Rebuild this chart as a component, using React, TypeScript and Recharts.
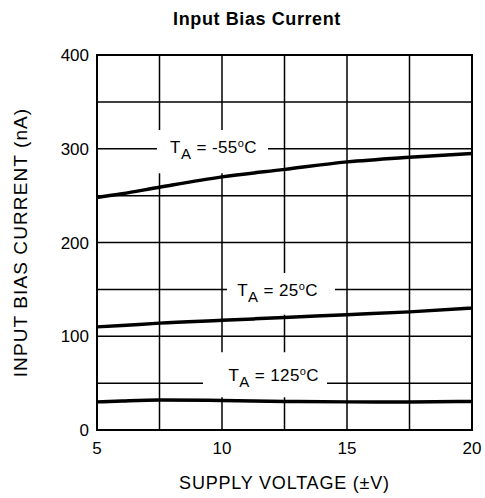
import { LineChart, Line, XAxis, YAxis, CartesianGrid, ReferenceArea, ReferenceDot, Label } from "recharts";

const voltage = [5, 6, 7.5, 10, 12.5, 15, 17.5, 20];
const biasM55 = [248, 252, 259, 270, 278, 286, 291, 295];
const bias25 = [110, 111.5, 114, 117, 120, 123, 126, 130];
const bias125 = [30, 31, 32, 31.5, 30.5, 30, 30, 30.5];

const xTicks = [5, 7.5, 10, 12.5, 15, 17.5, 20];
const yTicks = [0, 50, 100, 150, 200, 250, 300, 350, 400];

// curve labels: temperature text plus the white box that cuts the grid behind it
const curveLabels = [
  { temp: "-55", x: 9.66, y: 295, box: [7.4, 11.84, 274, 320] },
  { temp: "25", x: 12.22, y: 142.6, box: [10.2, 14.52, 123, 167.5] },
  { temp: "125", x: 12.07, y: 52.3, box: [9.24, 14.2, 35, 83] },
];

const data = voltage.map((v, i) => ({
  v,
  m55: biasM55[i],
  t25: bias25[i],
  t125: bias125[i],
}));

const FONT = "'Liberation Sans', Arial, Helvetica, sans-serif";

const TempText = ({ cx, cy, temp }: any) => (
  <text x={cx} y={cy} textAnchor="middle" fontFamily={FONT} fontSize={17} letterSpacing={0.4} fill="#000">
    T
    <tspan fontSize={15} dy={6}>A</tspan>
    <tspan dy={-6}>{` = ${temp}`}</tspan>
    <tspan fontSize={11} dy={-6}>o</tspan>
    <tspan dy={6}>C</tspan>
  </text>
);

const tickFmt = (step: number) => (v: number) => (v % step === 0 ? String(v) : "");

export default function App() {
  return (
    <div style={{ position: "absolute", left: 0, top: 0, width: 485, height: 498, background: "#fff" }}>
      <div
        style={{
          position: "absolute",
          left: 0,
          top: 9,
          width: 514,
          textAlign: "center",
          fontFamily: FONT,
          fontWeight: "bold",
          fontSize: 18,
          letterSpacing: 0.6,
          color: "#000",
        }}
      >
        Input Bias Current
      </div>
      <LineChart width={485} height={498} data={data} margin={{ top: 55, right: 13, left: 40, bottom: 4 }}>
        <CartesianGrid stroke="#000" strokeWidth={1.5} />
        <XAxis
          dataKey="v"
          type="number"
          domain={[5, 20]}
          ticks={xTicks}
          tickFormatter={tickFmt(5)}
          tickLine={false}
          axisLine={{ stroke: "#000", strokeWidth: 2 }}
          tickMargin={6}
          height={64}
          tick={{ fontFamily: FONT, fontSize: 17, fill: "#000" }}
        >
          <Label
            value="SUPPLY VOLTAGE (±V)"
            position="insideBottom"
            offset={5}
            style={{ fontFamily: FONT, fontSize: 18, letterSpacing: 0.8, fill: "#000" }}
          />
        </XAxis>
        <YAxis
          type="number"
          domain={[0, 400]}
          ticks={yTicks}
          tickFormatter={tickFmt(100)}
          tickLine={false}
          axisLine={{ stroke: "#000", strokeWidth: 2 }}
          width={57}
          tick={{ fontFamily: FONT, fontSize: 17, fill: "#000" }}
        >
          <Label
            value="INPUT BIAS CURRENT (nA)"
            angle={-90}
            position="insideLeft"
            offset={-20}
            style={{ textAnchor: "middle", fontFamily: FONT, fontSize: 19, letterSpacing: 1.1, fill: "#000" }}
          />
        </YAxis>
        {curveLabels.map((c) => (
          <ReferenceArea
            key={"box" + c.temp}
            x1={c.box[0]}
            x2={c.box[1]}
            y1={c.box[2]}
            y2={c.box[3]}
            fill="#fff"
            fillOpacity={1}
            stroke="none"
          />
        ))}
        <Line dataKey="m55" type="monotone" stroke="#000" strokeWidth={3.5} dot={false} isAnimationActive={false} />
        <Line dataKey="t25" type="monotone" stroke="#000" strokeWidth={3.5} dot={false} isAnimationActive={false} />
        <Line dataKey="t125" type="monotone" stroke="#000" strokeWidth={3.5} dot={false} isAnimationActive={false} />
        <ReferenceArea x1={5} x2={20} y1={0} y2={400} fill="none" stroke="#000" strokeWidth={2} />
        {curveLabels.map((c) => (
          <ReferenceDot
            key={"txt" + c.temp}
            x={c.x}
            y={c.y}
            r={0}
            shape={(p: any) => <TempText cx={p.cx} cy={p.cy} temp={c.temp} />}
          />
        ))}
      </LineChart>
    </div>
  );
}
